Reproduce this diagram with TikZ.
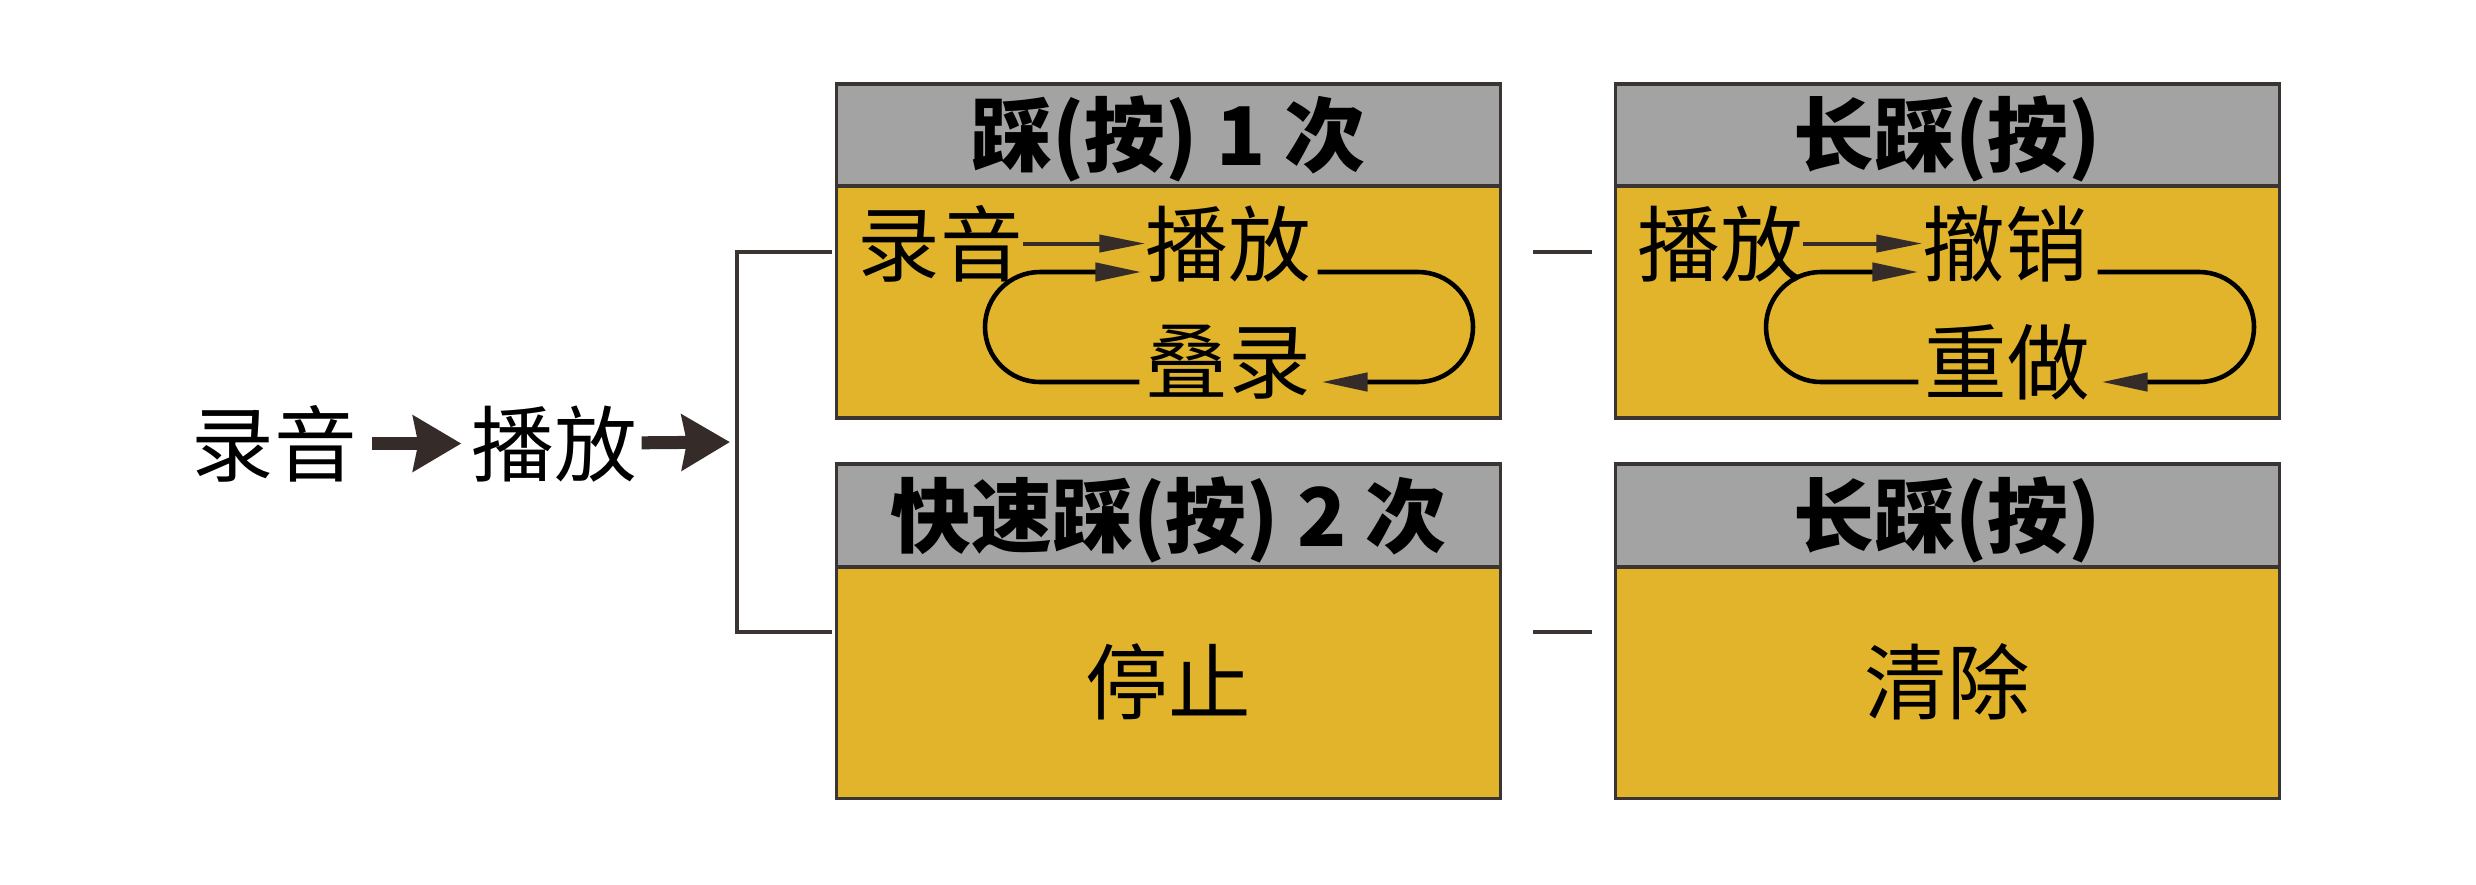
\documentclass[tikz,border=0pt]{standalone}
\usepackage{fontspec}
\newfontfamily\cjk{Noto Sans CJK SC}
\usetikzlibrary{arrows.meta}
\definecolor{hdrgray}{RGB}{163,163,163}
\definecolor{bodyyel}{RGB}{226,180,44}
\definecolor{edgecol}{RGB}{58,53,50}
\definecolor{arrcol}{RGB}{53,44,42}
\begin{document}
\begin{tikzpicture}[x=0.01cm,y=-0.01cm,
  txt/.style={font=\cjk\fontsize{23.5pt}{28pt}\selectfont, inner sep=0pt, outer sep=0pt, text height=20.7pt, text depth=2.8pt, anchor=base},
  hdr/.style={draw=edgecol, line width=0.9pt, fill=hdrgray, minimum width=6.63cm, minimum height=1.02cm, inner sep=0pt,
    font=\cjk\bfseries\fontsize{23pt}{28pt}\selectfont, text height=20.3pt, text depth=2.7pt},
  bodybox/.style={draw=edgecol, line width=0.9pt, fill=bodyyel, minimum width=6.63cm, minimum height=2.31cm, inner sep=0pt,
    font=\cjk\fontsize{23.5pt}{28pt}\selectfont, text height=20.7pt, text depth=2.8pt},
  bigarr/.style={draw=arrcol, line width=3.7pt, -{Stealth[length=0.48cm,width=0.55cm,inset=0.05cm]}},
  inarr/.style={draw=arrcol, line width=1.15pt, -{Triangle[length=0.46cm,width=0.17cm]}},
  loopln/.style={draw=black, line width=1.3pt},
  loopend/.style={loopln, -{Triangle[length=0.46cm,width=0.18cm,color=arrcol]}},
  thinln/.style={draw=edgecol, line width=0.9pt}
]
\fill[white] (0,0) rectangle (2476,884);
\useasboundingbox (0,0) rectangle (2476,884);

% left part
\node[txt] (L1) at (274.5,475) {录音};
\node[txt] (L2) at (554,475) {播放};
\coordinate (bm) at (737,442);
\coordinate (bt) at (832,252);
\coordinate (bb) at (832,632);
\draw[bigarr, shorten <=0.15cm, shorten >=0.1cm] (L1) -- (L2);
\draw[bigarr, shorten <=0.05cm, shorten >=0.07cm] (L2) -- (bm);
\draw[thinln] (bt) -| (bm) |- (bb);

% boxes
\node[hdr] (h1) at (1168.5,135) {踩(按) 1 次};
\node[bodybox, minimum height=2.32cm] (b1) at (1168.5,302) {};
\node[hdr] (h2) at (1947.5,135) {长踩(按)};
\node[bodybox, minimum height=2.32cm] (b2) at (1947.5,302) {};
\node[hdr, minimum height=1.03cm] (h3) at (1168.5,515.5) {快速踩(按) 2 次};
\node[bodybox] (b3) at (1168.5,682.5) {停止};
\node[hdr, minimum height=1.03cm] (h4) at (1947.5,515.5) {长踩(按)};
\node[bodybox] (b4) at (1947.5,682.5) {清除};

% separators
\coordinate (s1a) at (1533,252);
\coordinate (s1b) at (1592,252);
\coordinate (s2a) at (1533,632);
\coordinate (s2b) at (1592,632);
\draw[thinln] (s1a) -- (s1b);
\draw[thinln] (s2a) -- (s2b);

% box 1 content
\node[txt] (r1) at (940,275) {录音};
\node[txt] (p1) at (1228,275) {播放};
\node[txt] (d1) at (1228,392) {叠录};
\draw[inarr] (r1) -- (p1);
\coordinate (r1t) at (1418,272);
\coordinate (l1b) at (1040,382);
\coordinate (l1t) at (1040,272);
\draw[loopend, shorten <=0.07cm, shorten >=0.11cm] (p1.east |- r1t) -- (r1t) arc(-90:90:55) -- (d1.east |- l1b);
\draw[loopend, shorten <=0.06cm, shorten >=0.04cm] (d1.west |- l1b) -- (l1b) arc(90:270:55) -- (p1.west |- l1t);

% box 2 content
\node[txt] (p2) at (1720,275) {播放};
\node[txt] (c2) at (2005,275) {撤销};
\node[txt] (z2) at (2007,393) {重做};
\draw[inarr] (p2) -- (c2);
\coordinate (r2t) at (2199,272);
\coordinate (l2b) at (1821,382);
\coordinate (l2t) at (1821,272);
\draw[loopend, shorten <=0.1cm, shorten >=0.12cm] (c2.east |- r2t) -- (r2t) arc(-90:90:55) -- (z2.east |- l2b);
\draw[loopend, shorten <=0.06cm, shorten >=0.04cm] (z2.west |- l2b) -- (l2b) arc(90:270:55) -- (c2.west |- l2t);
\end{tikzpicture}
\end{document}
